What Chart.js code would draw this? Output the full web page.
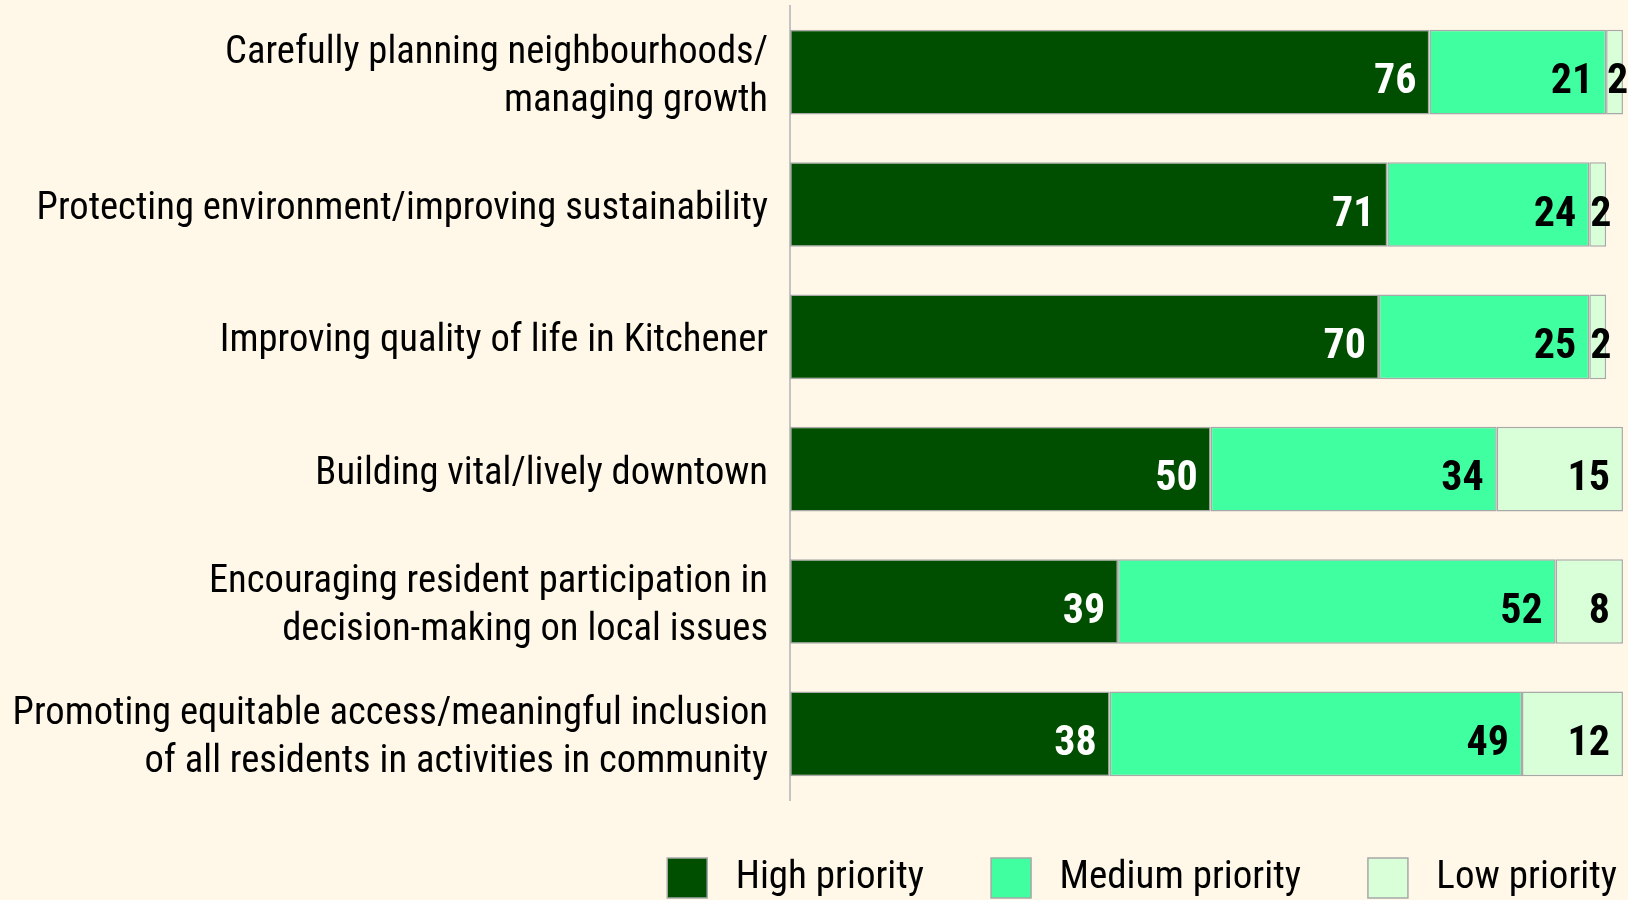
<!DOCTYPE html>
<html>
<head>
<meta charset="utf-8">
<script src="https://cdn.jsdelivr.net/npm/chart.js@4"></script>
<style>
  html, body { margin: 0; padding: 0; background: #fff8e8; }
  #wrap { width: 1628px; height: 900px; }
</style>
</head>
<body>
<div id="wrap"><canvas id="c" width="1628" height="900"></canvas></div>
<script>
const categories = [
  ['Carefully planning neighbourhoods/', 'managing growth'],
  'Protecting environment/improving sustainability',
  'Improving quality of life in Kitchener',
  'Building vital/lively downtown',
  ['Encouraging resident participation in', 'decision-making on local issues'],
  ['Promoting equitable access/meaningful inclusion', 'of all residents in activities in community']
]
const highPriority = [76, 71, 70, 50, 39, 38]
const mediumPriority = [21, 24, 25, 34, 52, 49]
const lowPriority = [2, 2, 2, 15, 8, 12]
const seriesNames = ['High priority', 'Medium priority', 'Low priority']

const FONT = '"Roboto Condensed", "DejaVu Sans Condensed", sans-serif'

// value labels: right aligned inside the segment, pushed right when the segment is too small
const barLabels = {
  id: 'barLabels',
  afterDatasetsDraw(chart) {
    const {ctx} = chart
    ctx.save()
    ctx.font = 'bold 42px ' + FONT
    ctx.textAlign = 'left'
    ctx.textBaseline = 'alphabetic'
    chart.data.datasets.forEach((ds, i) => {
      const meta = chart.getDatasetMeta(i)
      meta.data.forEach((bar, j) => {
        const txt = String(ds.data[j])
        const w = ctx.measureText(txt).width
        const start = Math.min(bar.x, bar.base)
        const end = Math.max(bar.x, bar.base)
        let x = end - 13 - w
        if (x < start + 1) x = start + 1
        ctx.fillStyle = i === 0 ? '#ffffff' : '#000000'
        ctx.fillText(txt, x, bar.y + 21)
      })
    })
    ctx.restore()
  }
}

const bg = {
  id: 'bg',
  beforeDraw(chart) {
    const {ctx} = chart
    ctx.save()
    ctx.fillStyle = '#fff8e8'
    ctx.fillRect(0, 0, chart.width, chart.height)
    ctx.restore()
  }
}

new Chart(document.getElementById('c'), {
  type: 'bar',
  data: {
    labels: categories,
    datasets: [
      {label: seriesNames[0], data: highPriority, backgroundColor: '#004f00'},
      {label: seriesNames[1], data: mediumPriority, backgroundColor: '#40ffa0'},
      {label: seriesNames[2], data: lowPriority, backgroundColor: '#d8ffd8'}
    ].map(d => ({...d, borderColor: '#a8a8a8', borderWidth: 1.5, borderSkipped: false,
      barPercentage: 0.64, categoryPercentage: 1}))
  },
  options: {
    responsive: false,
    animation: false,
    indexAxis: 'y',
    devicePixelRatio: 1,
    layout: {padding: {left: 0, right: -56, top: 6, bottom: -8}},
    scales: {
      x: {stacked: true, display: false, min: 0, max: 99.6},
      y: {
        stacked: true,
        grid: {display: false, drawTicks: false},
        border: {display: true, color: '#c4c4c4', width: 2},
        ticks: {color: '#000', padding: 22, labelOffset: 5,
          font: {family: FONT, size: 38.6, lineHeight: 48 / 38.6}},
        afterFit(scale) {
          scale.width = 790
          scale.paddingTop = 0
          scale.paddingBottom = 0
        }
      }
    },
    plugins: {
      legend: {
        position: 'bottom',
        align: 'end',
        labels: {
          boxWidth: 40, boxHeight: 40, padding: 58, color: '#000',
          font: {family: FONT, size: 39},
          generateLabels(chart) {
            return Chart.defaults.plugins.legend.labels.generateLabels(chart)
              .map(l => ({...l, text: ' ' + l.text + ' '}))
          }
        }
      },
      tooltip: {enabled: false}
    }
  },
  plugins: [bg, barLabels]
})
</script>
</body>
</html>
